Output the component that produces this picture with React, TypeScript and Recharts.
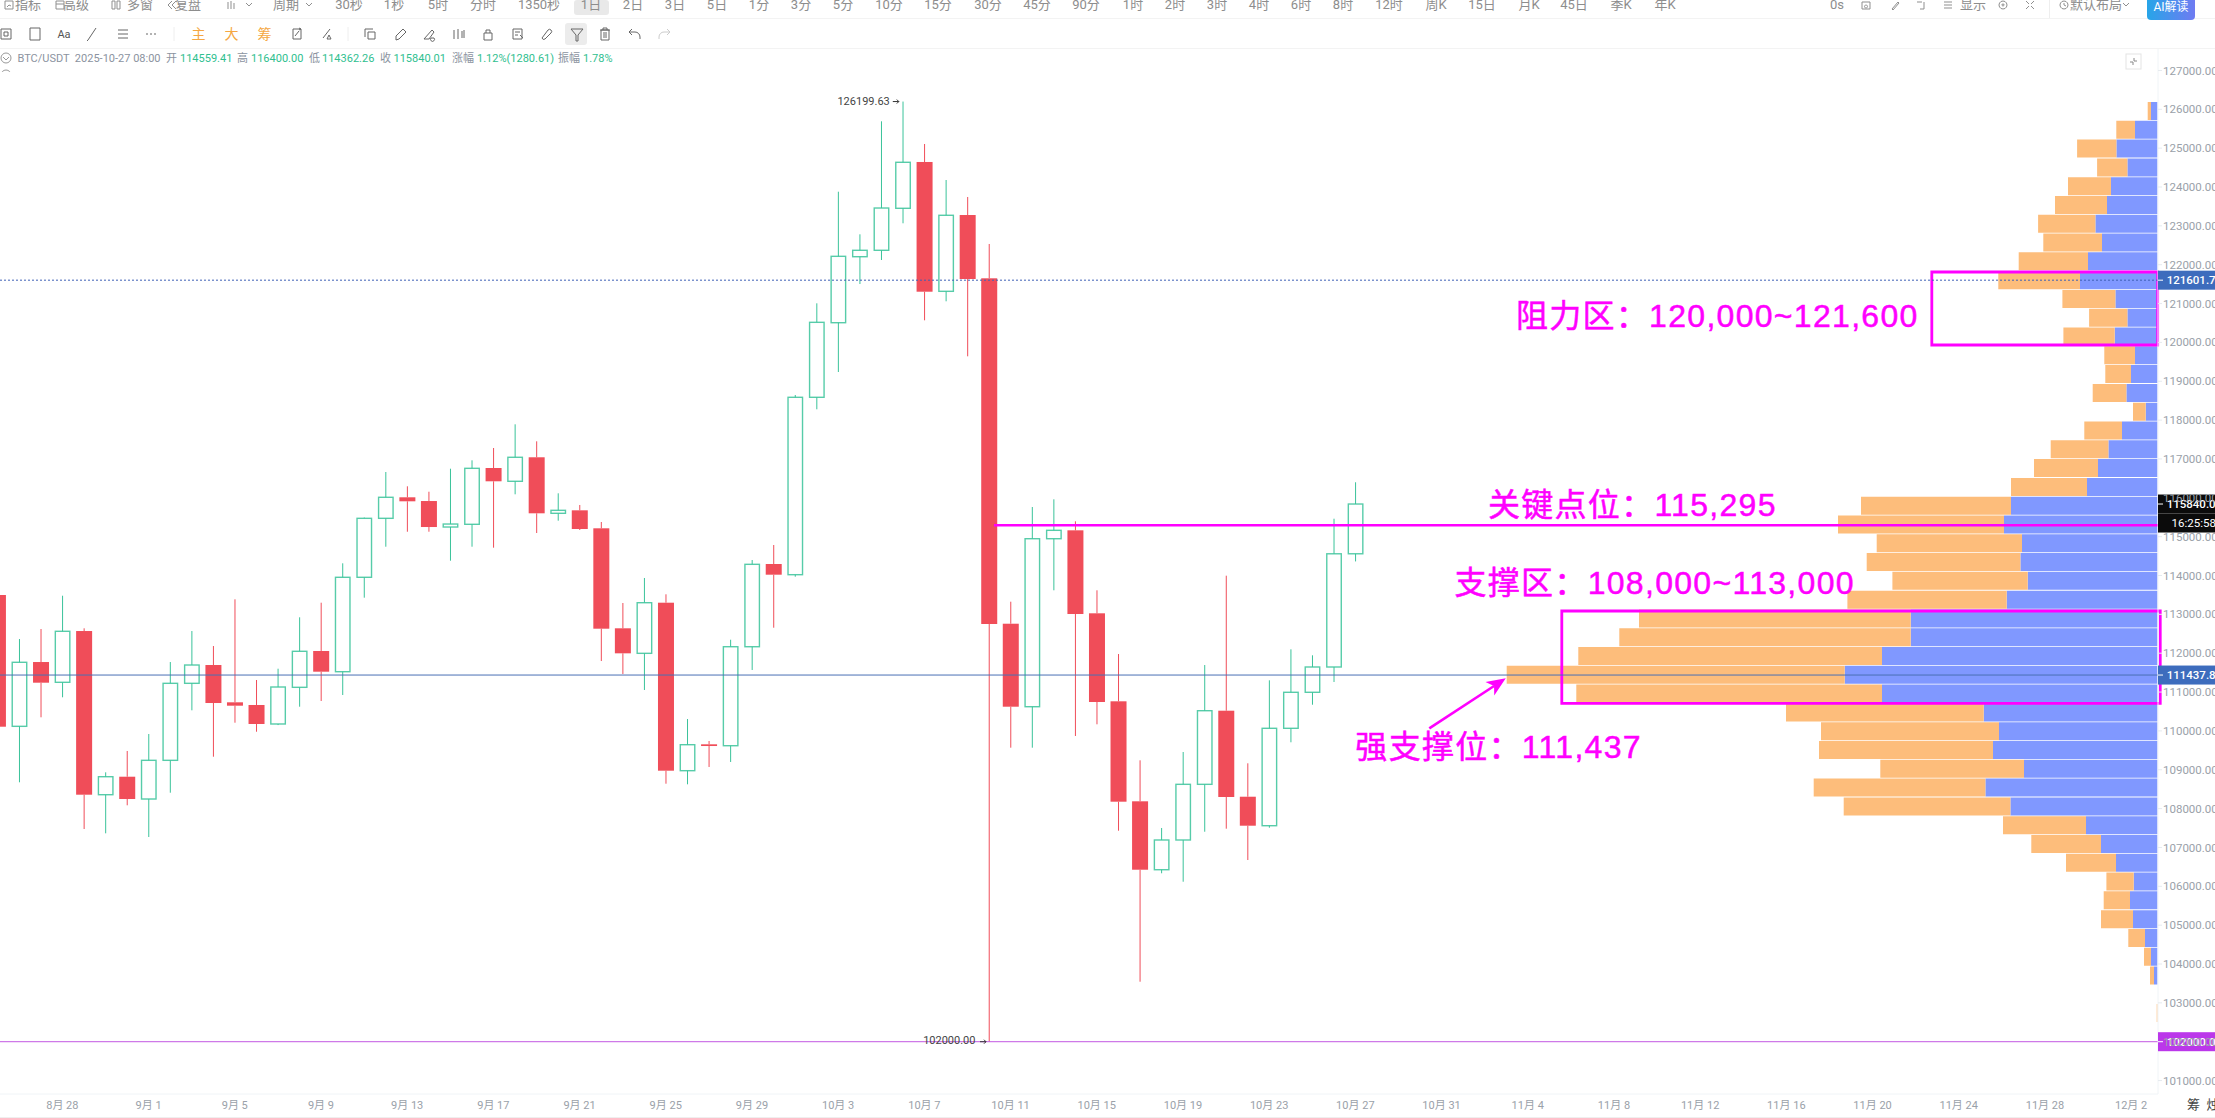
import React from 'react';
import { BarChart, ComposedChart, Bar, XAxis, YAxis, ReferenceLine, ReferenceDot, ReferenceArea } from 'recharts';

// ---------- candle data (BTC/USDT, 1D) ----------
const candleDates = [
  '8-25','8-26','8-27','8-28','8-29','8-30','8-31','9-1','9-2','9-3','9-4','9-5','9-6','9-7','9-8','9-9',
  '9-10','9-11','9-12','9-13','9-14','9-15','9-16','9-17','9-18','9-19','9-20','9-21','9-22','9-23','9-24','9-25',
  '9-26','9-27','9-28','9-29','9-30','10-1','10-2','10-3','10-4','10-5','10-6','10-7','10-8','10-9','10-10','10-11',
  '10-12','10-13','10-14','10-15','10-16','10-17','10-18','10-19','10-20','10-21','10-22','10-23','10-24','10-25','10-26','10-27',
];
const opens = [
  113498,110118,111773,111251,112571,108358,108821,108247,109243,111225,111696,110736,110667,110178,111122,112057,
  111524,113954,115472,116013,115917,115248,115318,116767,116425,117043,115601,115678,115215,112641,111997,113300,
  108976,109655,109619,112167,114296,114021,118587,120507,122206,122371,123452,124644,121315,123279,121650,112759,
  110623,114947,115163,113027,110762,108188,106427,107192,108625,110520,108306,107560,110067,110994,111645,114559.41,
];
const closes = [
  110108,111766,111241,112564,108358,108821,108247,109243,111225,111696,110718,110649,110178,111130,112049,111524,
  113954,115472,116013,115910,115248,115325,116759,116425,117043,115601,115678,115197,112631,111997,113300,108976,
  109645,109611,112167,114288,114021,118587,120517,122216,122371,123459,124636,121305,123272,121632,112752,110623,
  114947,115163,113009,110744,108178,106427,107192,108625,110520,108299,107560,110067,110994,111645,114559,115840.01,
];
const highs = [
  113600,112365,112623,113480,112641,108934,109483,109920,111773,112571,112185,113387,111310,111601,112924,113300,
  114314,115492,116664,116296,116157,116749,116965,117282,117892,117454,116116,115815,115377,113292,113936,113516,
  110306,109740,112347,114399,114785,118646,121006,123879,122782,125691,126199.63,125107,124180,123743,122533,113326,
  115763,115961,115395,113619,111979,109243,107501,109457,111696,113995,109166,111302,112100,111946,115462,116400,
];
const lows = [
  110000,108677,110350,110865,107475,107364,108085,107269,108409,110530,109336,110211,109979,110150,110623,110770,
  110924,113429,114741,115127,115127,114381,114741,114716,116090,115094,115411,115171,111799,111465,111053,108641,
  108625,109071,109200,111568,112656,113969,118278,119238,121503,122121,123066,120569,121058,119642,102000,109568,
  109568,113619,109869,110170,107431,103544,106335,106118,107405,107483,106677,107508,109707,110674,111259,114362.26,
];

// ---------- volume profile (50 price bins, highest first) ----------
const vpBuy = [
  6.7,22.7,41.3,30.3,46.7,50.7,62.3,55.7,69.7,77.7,42.3,30.3,43,22.7,26.7,31.3,12,35.7,49.3,59.7,70.7,146.7,153.7,135.7,137.3,
  130,151,247,247,275.7,313,275.7,174,158.7,164.7,133.7,172.3,147.3,71.7,56.7,41.7,24,27.7,24.7,12.7,6.7,3.7,0,0,0,
];
const vpSell = [
  3.3,18.7,39.3,30.3,43,52,57.3,58.7,69.3,81.7,53,38.3,51.3,30.7,25.7,33.7,12.7,37.7,57.7,64,76,150,166,145.3,153.7,
  135.3,159.3,271.7,291.4,303.7,338,305.7,197.7,178,174,143.7,171.7,166.7,83,69.7,50,27.3,26.3,32,16.7,7,4,0,1,0,
];

// ---------- axes ----------
const priceTicks = [
  101000,102000,103000,104000,105000,106000,107000,108000,109000,110000,111000,112000,113000,114000,
  115000,116000,117000,118000,119000,120000,121000,122000,123000,124000,125000,126000,127000,
];
const xTickIndex = [3,7,11,15,19,23,27,31,35,39,43,47,51,55,59,63,67,71,75,79,83,87,91,95,99];
const xTickLabels = [
  '8月 28','9月 1','9月 5','9月 9','9月 13','9月 17','9月 21','9月 25','9月 29','10月 3','10月 7','10月 11','10月 15',
  '10月 19','10月 23','10月 27','10月 31','11月 4','11月 8','11月 12','11月 16','11月 20','11月 24','11月 28','12月 2',
];

// ---------- levels ----------
const peakPrice = 126199.63;
const lowPrice = 102000;
const resistLevel = 121601.7;
const lastPrice = 115840.01;
const countdownPrice = 115351;
const keyLevel = 115295;
const strongLevel = 111437.86;

// ---------- header text ----------
const row1Labels = ['指标','高级','多窗','复盘','周期','30秒','1秒','5时','分时','1350秒','1日','2日','3日','5日','1分','3分','5分','10分','15分','30分','45分','90分','1时','2时','3时','4时','6时','8时','12时','周K','15日','月K','45日','季K','年K','0s','显示','默认布局'];
const row1X = [28,76,140,188,286,349,394,438,483,539,591,633,675,717,759,801,843,889,938,988,1037,1086,1133,1175,1217,1259,1301,1343,1389,1436,1482,1529,1574,1621,1665,1837,1973,2096];
const ohlcLabels = ['BTC/USDT  2025-10-27 08:00','开','114559.41','高','116400.00','低','114362.26','收','115840.01','涨幅','1.12%(1280.61)','振幅','1.78%'];
const ohlcX = [17.5,166,180,237,251,309,322,380,393.5,452,477,558,583];

const annotations = [
  { text: '阻力区：120,000~121,600', i: 70.45, price: 120400 },
  { text: '关键点位：115,295', i: 69.15, price: 115530 },
  { text: '支撑区：108,000~113,000', i: 67.6, price: 113530 },
  { text: '强支撑位：111,437', i: 63.0, price: 109300 },
];

const data = candleDates.map((date, i) => ({
  i, date, open: opens[i], close: closes[i], high: highs[i], low: lows[i], range: [lows[i], highs[i]],
}));
const vpData = vpBuy.map((b, idx) => ({ bin: idx, buy: b, sell: vpSell[idx] }));

const GREEN = '#3ac39a';
const RED = '#f04d59';
const MAGENTA = '#ff00ff';
const FONT = "Roboto, 'Noto Sans CJK SC', sans-serif";
const AXIS_I_MIN = 0.1067;
const AXIS_I_MAX = 100.246;
const MAIN_W = 2215;
const MAIN_H = 1118;

function Candle(props: any) {
  const { x, y, width, height, payload } = props;
  const { open, close, high, low } = payload;
  const k = height / (high - low);
  const yO = y + (high - open) * k;
  const yC = y + (high - close) * k;
  const top = Math.min(yO, yC);
  const bot = Math.max(yO, yC);
  const cx = x + width / 2;
  const up = close >= open;
  const c = up ? GREEN : RED;
  return (
    <g>
      <line x1={cx} x2={cx} y1={y} y2={top} stroke={c} strokeWidth={1} />
      <line x1={cx} x2={cx} y1={bot} y2={y + height} stroke={c} strokeWidth={1} />
      {up ? (
        <rect x={x + 0.75} y={top} width={width - 1.5} height={Math.max(bot - top, 1)} fill="none" stroke={c} strokeWidth={1.4} opacity={0.85} />
      ) : (
        <rect x={x} y={top} width={width} height={Math.max(bot - top, 1.5)} fill={c} />
      )}
    </g>
  );
}

function PriceTag({ cx, cy, text, bg }: any) {
  return (
    <g>
      <rect x={cx} y={cy - 9.5} width={57} height={19} fill={bg} />
      <line x1={cx} x2={cx + 5} y1={cy} y2={cy} stroke="#fff" />
      <text x={cx + 8.7} y={cy + 4} fontSize={11.5} fontFamily={FONT} fontWeight={500} fill="#fff">{text}</text>
    </g>
  );
}

function Arrow(props: any) {
  const { x1, y1, x2, y2 } = props;
  const a = Math.atan2(y2 - y1, x2 - x1);
  const l = 19;
  const w = 8;
  const bx = x2 - l * Math.cos(a);
  const by = y2 - l * Math.sin(a);
  const nx = -Math.sin(a);
  const ny = Math.cos(a);
  const ix = x2 - (l - 5) * Math.cos(a);
  const iy = y2 - (l - 5) * Math.sin(a);
  return (
    <g>
      <line x1={x1} y1={y1} x2={ix} y2={iy} stroke={MAGENTA} strokeWidth={2.6} />
      <polygon points={`${x2},${y2} ${bx + nx * w},${by + ny * w} ${ix},${iy} ${bx - nx * w},${by - ny * w}`} fill={MAGENTA} />
    </g>
  );
}

const ICONS: [number, string][] = [
  [6, 'M2 2h10v10h-10z M5 5h4v4h-4z'],
  [35, 'M2 1h10v12h-10z'],
  [92, 'M11 1L3 13 M3 13l-1 1'],
  [123, 'M2 3h10 M2 7h10 M2 11h10'],
  [151, 'M2 7h2 M6 7h2 M10 7h2'],
  [297, 'M3 2h8v10h-8z M5 9l4-5 M9 1l2 1-2 1'],
  [327, 'M10 2L3 11 M9 8l2 4-4 0z'],
  [370, 'M2 2h8 M2 2v8 M5 5h7v7h-7z'],
  [400, 'M3 9l7-7 3 3-7 7-3 1z'],
  [429, 'M2 12l8-9 2 2-5 7z M9 11a2 2 0 1 0 3 0z'],
  [459, 'M2 3v9 M6 2v10 M10 4v7 M12 3v8'],
  [488, 'M3 6h8v7h-8z M5 6v-3h4v3'],
  [518, 'M2 2h9v10h-9z M4 5h5 M4 8h3 M9 8l3 3'],
  [546, 'M3 11l6-8a2 2 0 0 1 3 3l-6 6a2 2 0 0 1-3-1z'],
  [577, 'M1 2h12l-5 6v6h-2v-6z'],
  [605, 'M3 3h8v10h-8z M2 3h10 M5 3v-2h4v2 M6 5v6 M8 5v6'],
  [635, 'M4 2L1 5l3 3 M1 5h6a5 5 0 0 1 5 5v2'],
  [664, 'M10 2l3 3-3 3 M13 5h-6a5 5 0 0 0-5 5v2'],
];

const TOP_ICONS: [number, string][] = [
  [9, 'M1 0h8v8h-8z M3 6l2-2 2 1'],
  [60, 'M1 0h8v8h-8z M1 3h8'],
  [116, 'M1 0h3v8h-3z M6 0h3v8h-3z'],
  [172, 'M5 0l-4 4 4 4 M9 0l-4 4 4 4'],
  [231, 'M2 1v7 M5 0v8 M8 2v6'],
  [249, 'M2 2l3 3 3-3'],
  [309, 'M2 2l3 3 3-3'],
  [1866, 'M1 1h8v7h-8z M5 4a1.5 1.5 0 1 0 .01 0'],
  [1895, 'M2 8l6-7 1 1-6 7z'],
  [1921, 'M1 1h5 M8 1v7h-4'],
  [1948, 'M1 1h8 M1 4h8 M1 7h8'],
  [2003, 'M5 0a4 4 0 1 0 .01 0 M5 3a1 1 0 1 0 .01 0'],
  [2030, 'M1 0l3 3 M9 0l-3 3 M1 8l3-3 M9 8l-3-3'],
  [2064, 'M5 0a4 4 0 1 0 .01 0 M5 2v2l2 1'],
  [2126, 'M2 2l3 3 3-3'],
];

function Header() {
  const rowText: React.CSSProperties = { position: 'absolute', fontFamily: FONT, whiteSpace: 'pre', lineHeight: 1 };
  return (
    <div style={{ position: 'absolute', left: 0, top: 0, width: MAIN_W, height: 72, pointerEvents: 'none' }}>
      <div style={{ position: 'absolute', left: 574, top: 0, width: 35, height: 15, background: '#e9e9e9', borderRadius: 3 }} />
      <div style={{ position: 'absolute', left: 565, top: 23, width: 22, height: 22, background: '#ececec', borderRadius: 3 }} />
      <div style={{ position: 'absolute', left: 0, top: 18, width: MAIN_W, height: 1, background: '#f3f3f3' }} />
      <div style={{ position: 'absolute', left: 0, top: 48, width: MAIN_W, height: 1, background: '#f3f3f3' }} />
      <div style={{ position: 'absolute', left: 2049, top: 0, width: 1, height: 18, background: '#eeeeee' }} />
      {row1Labels.map((t, k) => (
        <div key={t} style={{ ...rowText, left: row1X[k], top: -2, fontSize: 13, color: '#8d8d8d', transform: 'translateX(-50%)' }}>{t}</div>
      ))}
      <div style={{ position: 'absolute', left: 2147, top: 0, width: 48, height: 20, borderRadius: '0 0 4px 4px', background: 'linear-gradient(90deg,#27a5e8,#6f7bf2)', color: '#fff', fontFamily: FONT, fontSize: 12, textAlign: 'center', lineHeight: '14px' }}>AI解读</div>
      {['主', '大', '筹'].map((t, k) => (
        <div key={t} style={{ ...rowText, left: [198.5, 231.5, 264.5][k], top: 27, fontSize: 14, color: '#f5a742', transform: 'translateX(-50%)' }}>{t}</div>
      ))}
      <div style={{ ...rowText, left: 64, top: 29, fontSize: 11, color: '#555', transform: 'translateX(-50%)' }}>Aa</div>
      <svg width={MAIN_W} height={72} style={{ position: 'absolute', left: 0, top: 0 }}>
        {TOP_ICONS.map(([x, d]) => (
          <g key={x} transform={`translate(${x - 5},${1})`}>
            <path d={d} fill="none" stroke="#8f8f8f" strokeWidth={1} />
          </g>
        ))}
        {ICONS.map(([x, d]) => (
          <g key={x} transform={`translate(${x - 7},${27})`}>
            <path d={d} fill="none" stroke={x === 664 ? '#ccc' : '#666'} strokeWidth={1} />
          </g>
        ))}
        <line x1={174} x2={174} y1={27} y2={41} stroke="#eee" />
        <line x1={348} x2={348} y1={27} y2={41} stroke="#eee" />
        <circle cx={6} cy={58} r={5} fill="none" stroke="#999" />
        <path d="M3 57l3 3 3-3" fill="none" stroke="#999" />
        <circle cx={6} cy={75} r={5} fill="none" stroke="#999" />
        <path d="M5 72l3 3-3 3" fill="none" stroke="#999" />
        <rect x={2126} y={54} width={15} height={15} fill="none" stroke="#e4e4e4" />
        <path d="M2134 58v3h3 M2133 65v-3h-3" fill="none" stroke="#888" />
      </svg>
      {ohlcLabels.map((t, k) => {
        const isVal = k > 1 && k % 2 === 0;
        return (
          <div key={t + k} style={{ ...rowText, left: ohlcX[k], top: 53, fontSize: 11, color: isVal ? '#2fc08f' : '#8b93a0' }}>{t}</div>
        );
      })}
    </div>
  );
}

export default function App() {
  return (
    <div style={{ position: 'relative', width: MAIN_W, height: MAIN_H, overflow: 'hidden', background: '#fff' }}>
      <style>{'html,body{margin:0;padding:0;overflow:hidden}'}</style>
      {/* Volume profile layer */}
      <div style={{ position: 'absolute', left: 0, top: 0 }}>
        <BarChart
          width={MAIN_W}
          height={MAIN_H}
          data={vpData}
          layout="vertical"
          barCategoryGap={0}
          margin={{ top: 102, right: 57.3, left: 0, bottom: 76.3 }}
        >
          <XAxis type="number" hide reversed domain={[0, 2157.7]} allowDataOverflow />
          <YAxis type="category" dataKey="bin" hide />
          <Bar dataKey="buy" stackId="vp" fill="#8098ff" barSize={18} isAnimationActive={false} />
          <Bar dataKey="sell" stackId="vp" fill="#fdbd7b" barSize={18} isAnimationActive={false} />
        </BarChart>
      </div>
      {/* Candles, axes, levels */}
      <div style={{ position: 'absolute', left: 0, top: 0 }}>
        <ComposedChart
          width={MAIN_W}
          height={MAIN_H}
          data={data}
          margin={{ top: 48, right: 0, left: 0, bottom: 0 }}
        >
          <XAxis
            type="number"
            dataKey="i"
            domain={[AXIS_I_MIN, AXIS_I_MAX]}
            allowDataOverflow
            ticks={xTickIndex}
            interval={0}
            height={24}
            tickSize={0}
            tickMargin={7}
            axisLine={{ stroke: '#f0f4f7' }}
            tickLine={false}
            tick={{ fontSize: 11, fill: '#9aa1a9', fontFamily: FONT }}
            tickFormatter={(v: number) => xTickLabels[xTickIndex.indexOf(v)]}
          />
          <YAxis
            orientation="right"
            width={57}
            domain={[100654, 127578]}
            allowDataOverflow
            ticks={priceTicks}
            interval={0}
            tickSize={4}
            tickMargin={1}
            axisLine={{ stroke: '#f0f4f7' }}
            tickLine={{ stroke: '#e6ebef' }}
            tick={{ fontSize: 11.5, fill: '#9aa1a9', fontFamily: FONT, textAnchor: 'start' }}
            tickFormatter={(v: number) => v.toFixed(2)}
          />
          <ReferenceLine y={resistLevel} stroke="#3d5fb5" strokeDasharray="2 2" />
          <ReferenceLine y={strongLevel} stroke="#4a6fb5" strokeWidth={1} />
          <ReferenceLine y={lowPrice} stroke="#c257e2" />
          <Bar dataKey="range" barSize={16} shape={Candle} isAnimationActive={false} />

          <ReferenceDot x={AXIS_I_MAX} y={resistLevel} r={0} ifOverflow="visible" shape={(p: any) => <PriceTag cx={p.cx} cy={p.cy} text="121601.70" bg="#3d6cbd" />} />
          <ReferenceDot x={AXIS_I_MAX} y={lastPrice} r={0} ifOverflow="visible" shape={(p: any) => <PriceTag cx={p.cx} cy={p.cy} text="115840.01" bg="#0b0b0b" />} />
          <ReferenceDot x={AXIS_I_MAX} y={countdownPrice} r={0} ifOverflow="visible" shape={(p: any) => (
            <g>
              <rect x={p.cx} y={p.cy - 9.5} width={57} height={19} fill="#0b0b0b" />
              <text x={p.cx + 13.5} y={p.cy + 4} fontSize={11.5} fontFamily={FONT} fill="#fff">16:25:58</text>
            </g>
          )} />
          <ReferenceDot x={AXIS_I_MAX} y={strongLevel} r={0} ifOverflow="visible" shape={(p: any) => <PriceTag cx={p.cx} cy={p.cy} text="111437.86" bg="#3d6cbd" />} />
          <ReferenceDot x={AXIS_I_MAX} y={lowPrice} r={0} ifOverflow="visible" shape={(p: any) => <PriceTag cx={p.cx} cy={p.cy} text="102000.00" bg="#bb37ea" />} />

          <ReferenceDot x={42} y={peakPrice} r={0} ifOverflow="visible" shape={(p: any) => (
            <g>
              <text x={p.cx - 13} y={p.cy + 3} textAnchor="end" fontSize={11} fontFamily={FONT} fill="#444">126199.63</text>
              <path d={`M${p.cx - 10} ${p.cy}h6 M${p.cx - 6} ${p.cy - 2}l2 2-2 2`} stroke="#333" fill="none" />
            </g>
          )} />
          <ReferenceDot x={46} y={lowPrice} r={0} ifOverflow="visible" shape={(p: any) => (
            <g>
              <text x={p.cx - 13.5} y={p.cy + 2} textAnchor="end" fontSize={11} fontFamily={FONT} fill="#444">102000.00</text>
              <path d={`M${p.cx - 9} ${p.cy}h6 M${p.cx - 5} ${p.cy - 2}l2 2-2 2`} stroke="#333" fill="none" />
            </g>
          )} />

          <ReferenceLine
            segment={[{ x: 46.23, y: keyLevel }, { x: 100.46, y: keyLevel }]}
            stroke={MAGENTA}
            strokeWidth={2.6}
            ifOverflow="visible"
          />
          <ReferenceArea x1={89.75} x2={100.23} y1={119933} y2={121812} fill="none" stroke={MAGENTA} strokeWidth={2.8} ifOverflow="visible" />
          <ReferenceArea x1={72.58} x2={100.35} y1={110710} y2={113086} fill="none" stroke={MAGENTA} strokeWidth={2.8} ifOverflow="visible" />
          <ReferenceLine
            segment={[{ x: 66.43, y: 110067 }, { x: 69.98, y: 111354 }]}
            ifOverflow="visible"
            shape={Arrow}
          />
          {annotations.map((a) => (
            <ReferenceDot
              key={a.text}
              x={a.i}
              y={a.price}
              r={0}
              ifOverflow="visible"
              shape={(p: any) => (
                <text x={p.cx} y={p.cy} fontSize={32} letterSpacing={1.3} stroke={MAGENTA} strokeWidth={0.5} fontFamily="'Liberation Sans','Noto Sans CJK SC',sans-serif" fill={MAGENTA}>{a.text}</text>
              )}
            />
          ))}
        </ComposedChart>
      </div>
      <Header />
      <div style={{ position: 'absolute', left: 2187, top: 1098, fontFamily: FONT, fontSize: 13, color: '#444', whiteSpace: 'pre', lineHeight: 1 }}>筹  烛</div>
      <div style={{ position: 'absolute', left: 0, top: 1117, width: MAIN_W, height: 1, background: '#efefef' }} />
    </div>
  );
}
